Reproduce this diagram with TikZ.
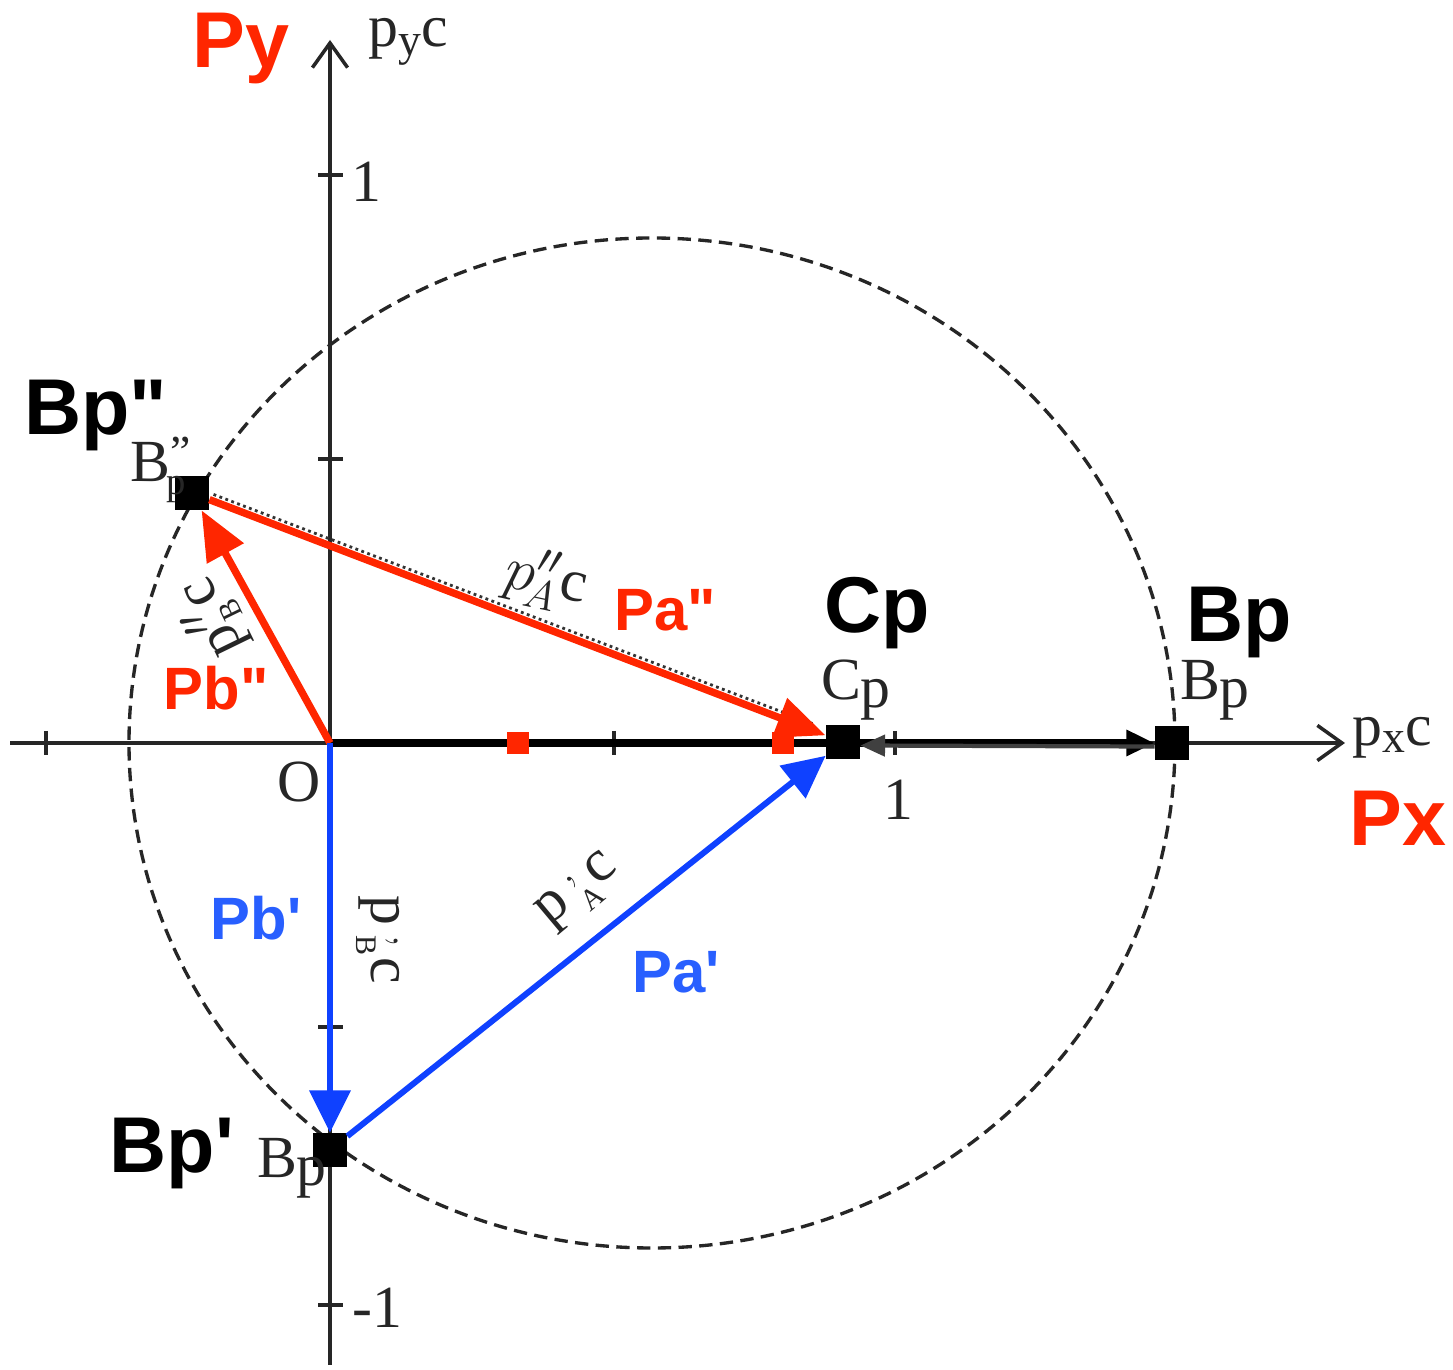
\documentclass[tikz,border=0pt]{standalone}
\usepackage{fontspec}
\setmainfont{Liberation Serif}
\newfontfamily\bsans{Liberation Sans}
\usetikzlibrary{arrows.meta,calc}
\definecolor{myred}{RGB}{255,38,0}
\definecolor{myblue}{RGB}{15,65,255}
\definecolor{lblue}{RGB}{40,95,255}
\newcommand\sq{\char"27\relax}
\newcommand\dq{\char"22\relax}
\begin{document}
\begin{tikzpicture}[x=0.01cm,y=-0.01cm,
  bigbold/.style={font={\bsans\bfseries\fontsize{22.5}{24}\selectfont},inner sep=0pt},
  midbold/.style={font={\bsans\bfseries\fontsize{17}{19}\selectfont},inner sep=0pt},
  serif/.style={font={\fontsize{17}{19}\selectfont},inner sep=0pt,text=black!85},
  blacksq/.style={fill=black,minimum size=9.5pt,inner sep=0pt},
  redsq/.style={fill=myred,minimum size=6.5pt,inner sep=0pt},
  axisline/.style={line width=1pt,black!85,-{Straight Barb[length=7pt,width=10pt]}},
  tickline/.style={line width=1pt,black!85},
  vecred/.style={myred,line width=2.1pt,-{Triangle[length=14pt,width=11.5pt]}},
  vecblue/.style={myblue,line width=1.7pt,-{Triangle[length=12pt,width=11.5pt]}}]
\useasboundingbox (0,0) rectangle (1453,1370);
\fill[white] (0,0) rectangle (1453,1370);

% circle
\draw[black!85,line width=0.95pt,dash pattern=on 3.8pt off 2.1pt] (652,743) ellipse [x radius=523,y radius=505];

% axes
\coordinate (O) at (330,743);
\coordinate (xs) at (10,743);
\coordinate (xe) at (1345,743);
\coordinate (ys) at (330,1365);
\coordinate (ye) at (330,40);
\draw[axisline] (xs) -- (xe);
\draw[axisline] (ys) -- (ye);
% ticks
\foreach \tx in {46,614,895}{\draw[tickline] (\tx,731) -- (\tx,755);}
\foreach \ty in {175,459,1027,1305}{\draw[tickline] (318,\ty) -- (343,\ty);}

% points
\node[blacksq] (Bp) at (1172,743) {};
\node[blacksq] (Cp) at (843,742) {};
\node[blacksq] (Bp1) at (330,1150) {};
\node[blacksq] (Bp2) at (192,493) {};

% black arrows on x axis
\draw[black,line width=2pt,-{Triangle[length=8pt,width=7pt]}] (O) -- (Bp);
\draw[black!75,line width=1.2pt,-{Triangle[length=7pt,width=6pt]}] ([yshift=-1pt]Bp.west) -- ([yshift=-1pt]Cp.east);

% red markers on x axis
\node[redsq] (r1) at (518,743) {};
\node[redsq] (r2) at (783,743) {};

% dotted companion of Pa''
\draw[black!80,densely dotted,line width=0.8pt] ($(Bp2)!0.03!(Cp)+(2,-6)$) -- ($(Bp2)!0.95!(Cp)+(2,-6)$);

% vectors
\draw[vecred] (Bp2) -- (Cp);
\draw[vecred] (O) -- (Bp2);
\draw[vecblue] (O) -- (Bp1);
\draw[vecblue] (Bp1) -- (Cp);

% axis labels
\node[serif] (pyc) at (408,42) {p\raisebox{-0.35ex}{\fontsize{13}{13}\selectfont y}c};
\node[serif] (pxc) at (1392,738) {p\raisebox{-0.25ex}{\fontsize{13}{13}\selectfont x}c};
\node[serif] (one y) at (366,182) {1};
\node[serif] (mone) at (377,1308) {-1};
\node[serif] (one x) at (898,800) {1};
\node[serif] (Olab) at (299,782) {O};

% serif point labels
\node[serif] (lBpp) at (158,470) {B\raisebox{0.5ex}{\fontsize{13}{13}\selectfont\dq}\kern-0.4em\raisebox{-0.5ex}{\fontsize{11}{11}\selectfont p}};
\node[serif] (lCp) at (856,690) {C\raisebox{-0.3ex}{p}};
\node[serif] (lBp) at (1215,690) {B\raisebox{-0.3ex}{p}};
\node[serif] (lBp1) at (292,1168) {B\raisebox{-0.3ex}{p}};

% vector labels (serif)
\node[serif,rotate=-12] (pA2) at (546,580) {$p''_{\!A}\mathrm{c}$};
\node[serif,rotate=116] (pB2) at (212,618) {p$''_{\scriptscriptstyle\mathrm{B}}$c};
\node[serif,rotate=40] (pA1) at (580,893) {p$\,^{\mathbf{,}}_{\scriptscriptstyle\mathrm{A}}$c};
\node[serif,rotate=-90] (pB1) at (378,940) {p$\,^{\mathbf{,}}_{\scriptscriptstyle\mathrm{B}}$c};

% big bold labels
\node[bigbold,text=myred] (Py) at (241,48) {Py};
\node[bigbold,text=myred] (Px) at (1398,818) {Px};
\node[bigbold] (tBpp) at (96,415) {Bp\dq};
\node[bigbold] (tCp) at (877,613) {Cp};
\node[bigbold] (tBp) at (1239,622) {Bp};
\node[bigbold] (tBp1) at (172,1153) {Bp\sq};
\node[midbold,text=myred] (tPa2) at (665,610) {Pa\dq};
\node[midbold,text=myred] (tPb2) at (216,688) {Pb\dq};
\node[midbold,text=lblue] (tPb1) at (256,918) {Pb\sq};
\node[midbold,text=lblue] (tPa1) at (676,972) {Pa\sq};
\end{tikzpicture}
\end{document}
